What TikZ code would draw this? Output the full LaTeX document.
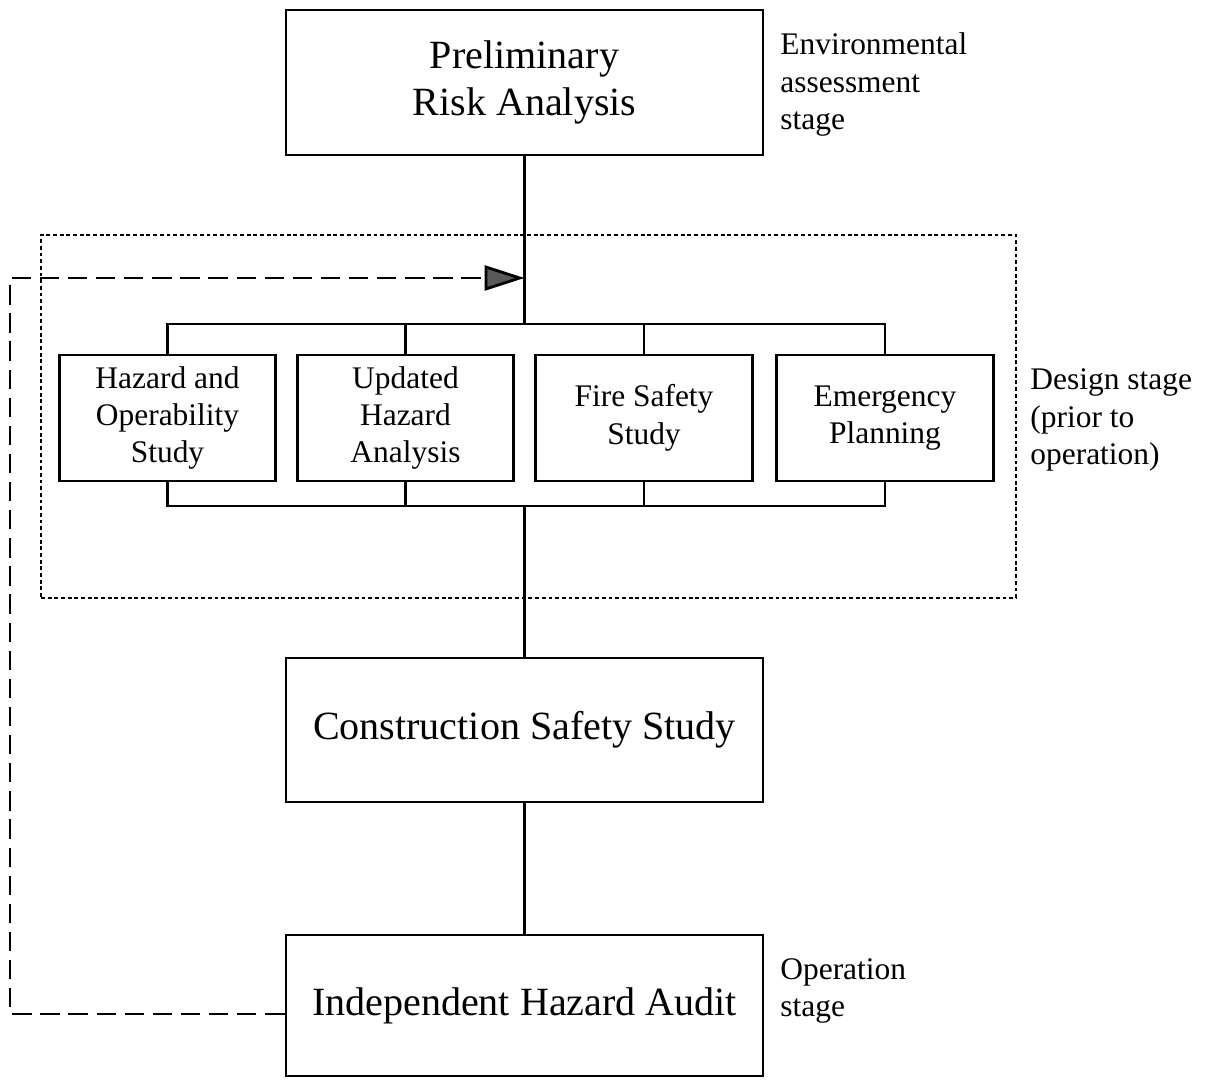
\documentclass[tikz,border=0pt]{standalone}
\usepackage{fontspec}
\setmainfont{Liberation Serif}
\usepackage{tikz}
\usetikzlibrary{positioning}
\usetikzlibrary{arrows.meta}

\tikzset{
	stageBox/.style={rectangle, draw=black, line width=1.6pt, minimum width=9.54cm, align=center, font=\fontsize{22.8}{26.7}\selectfont},
	studyBox/.style={rectangle, draw=black, line width=1.6pt, minimum width=4.33cm, minimum height=2.52cm, align=center, font=\fontsize{17.9}{21.3}\selectfont},
	stageLabel/.style={anchor=west, inner sep=0pt, align=left, font=\fontsize{17.9}{21.3}\selectfont},
	stageFrame/.style={rectangle, draw=black, line width=1.6pt, dash pattern=on 2.2pt off 1.6pt},
	link/.style={line width=1.6pt},
	feedback/.style={line width=1.6pt, dash pattern=on 11pt off 5pt, -{Triangle[length=0.8cm, width=0.5cm, fill=black!65]}}
}

\begin{document}
\begin{tikzpicture}
		\useasboundingbox (0,0) rectangle (24.16,21.58);

		\node[stageFrame, minimum width=19.5cm, minimum height=7.26cm](designFrame) at (10.57,13.25){};

		\node[stageBox, minimum height=2.9cm](prelim) at (10.49,19.93){Preliminary\\Risk Analysis};
		\node[stageBox, minimum height=2.88cm](constr) at (10.49,6.98){Construction Safety Study};
		\node[stageBox, minimum height=2.82cm](audit) at (10.49,1.47){Independent Hazard Audit};

		\node[studyBox](hazop) at (3.35,13.22){Hazard and\\Operability\\Study};
		\node[studyBox](updHaz) at (8.11,13.22){Updated\\Hazard\\Analysis};
		\node[studyBox](fireSafety) at (12.88,13.22){Fire Safety\\Study};
		\node[studyBox](emergPlan) at (17.70,13.22){Emergency\\Planning};

		\node[stageLabel](envLabel) at (15.6,19.89){Environmental\\assessment\\stage};
		\node[stageLabel](designLabel) at (20.6,13.18){Design stage\\(prior to\\operation)};
		\node[stageLabel](operLabel) at (15.6,1.76){Operation\\stage};

		\coordinate (busTop) at (10.49,15.10);
		\coordinate (busBot) at (10.49,11.46);
		\coordinate (feedIn) at (10.49,16.02);
		\coordinate (feedCorner) at (0.2,16.02);

		% draw main line
		\draw[link] (prelim) -- (busTop);
		\draw[link] (busBot) -- (constr);
		\draw[link] (constr) -- (audit);

		% draw top bus
		\draw[link] (hazop.north) -- (hazop.north |- busTop) -| (emergPlan.north);
		\draw[link] (updHaz.north) -- (updHaz.north |- busTop);
		\draw[link] (fireSafety.north) -- (fireSafety.north |- busTop);

		% draw bottom bus
		\draw[link] (hazop.south) -- (hazop.south |- busBot) -| (emergPlan.south);
		\draw[link] (updHaz.south) -- (updHaz.south |- busBot);
		\draw[link] (fireSafety.south) -- (fireSafety.south |- busBot);

		% draw feedback edge
		\draw[feedback] ([yshift=-0.17cm]audit.west) -| (feedCorner) -- (feedIn);

	\end{tikzpicture}
\end{document}
